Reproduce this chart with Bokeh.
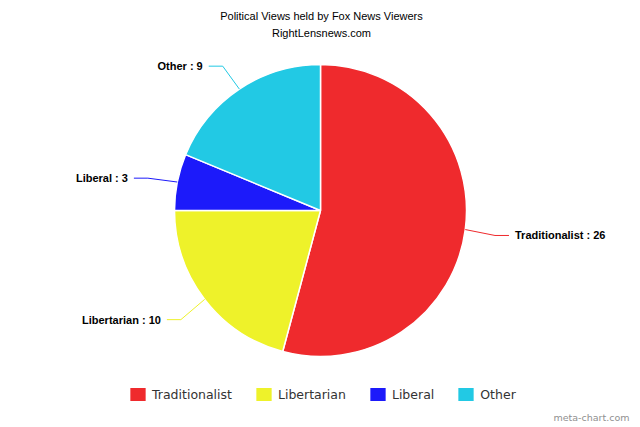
import numpy as np
from bokeh.plotting import figure
from bokeh.models import Range1d, ColumnDataSource
from bokeh.core.properties import value
from bokeh.embed import file_html
from bokeh.resources import INLINE

# ---- data ----
categories = ["Traditionalist", "Libertarian", "Liberal", "Other"]
counts = [26, 10, 3, 9]
colors = ["#EF2A2D", "#EEF22A", "#1C1AFA", "#22C9E4"]
title_lines = ["Political Views held by Fox News Viewers", "RightLensnews.com"]
credit = "meta-chart.com"

# ---- layout (screen coords: data x = screen x, data y = H - screen y) ----
W, H = 640, 427
CX, CY = 320, H - 210
R = 146

p = figure(width=W, height=H, output_backend="svg", toolbar_location=None,
           x_range=Range1d(0, W), y_range=Range1d(0, H),
           min_border=0, outline_line_color=None)
p.axis.visible = False
p.grid.visible = False
p.background_fill_color = "white"
p.border_fill_color = "white"

vals = np.array(counts, dtype=float)
frac = vals / vals.sum()
cum = np.concatenate([[0], np.cumsum(frac)])
start = np.pi / 2 - 2 * np.pi * cum[1:]
end = np.pi / 2 - 2 * np.pi * cum[:-1]
mid = (start + end) / 2

src = ColumnDataSource(dict(cat=categories, start=start, end=end, color=colors))
p.wedge(x=CX, y=CY, radius=R, start_angle="start", end_angle="end",
        fill_color="color", line_color="white", line_width=1.5,
        legend_field="cat", source=src)

# ---- data labels with connectors ----
d = 30
hseg = 14
for cat, cnt, col, a in zip(categories, counts, colors, mid):
    ex, ey = CX + R * np.cos(a), CY + R * np.sin(a)
    bx, by = CX + (R + d) * np.cos(a), CY + (R + d) * np.sin(a)
    side = 1 if np.cos(a) >= 0 else -1
    tx = bx + side * hseg
    p.line([ex, bx, tx], [ey, by - 2, by - 2], line_color=col, line_width=1)
    p.text(x=[tx + side * 6], y=[by - 2], text=[f"{cat} : {cnt}"],
           text_font=value("Liberation Sans"), text_font_style="bold",
           text_font_size="11px", text_color="black",
           text_align="left" if side > 0 else "right", text_baseline="middle")

# ---- title ----
p.text(x=[321, 321], y=[H - 15, H - 32], text=title_lines,
       text_font=value("Liberation Sans"), text_font_size="11px",
       text_color="black", text_align="center", text_baseline="middle")

# ---- credit ----
p.text(x=[629], y=[H - 417], text=[credit], text_font=value("DejaVu Sans"),
       text_font_size="9.5px", text_color="#909090",
       text_align="right", text_baseline="middle")

# ---- legend ----
leg = p.legend[0]
leg.orientation = "horizontal"
leg.location = (127, H - 403)
leg.glyph_width = 21
leg.glyph_height = 18
leg.label_height = 18
leg.label_standoff = 4
leg.spacing = 21
leg.padding = 0
leg.margin = 0
leg.border_line_alpha = 0
leg.background_fill_alpha = 0
leg.label_text_font = "DejaVu Sans"
leg.label_text_font_size = "12.5px"
leg.label_text_color = "#333333"

open("out.html", "w").write(file_html(p, INLINE))
